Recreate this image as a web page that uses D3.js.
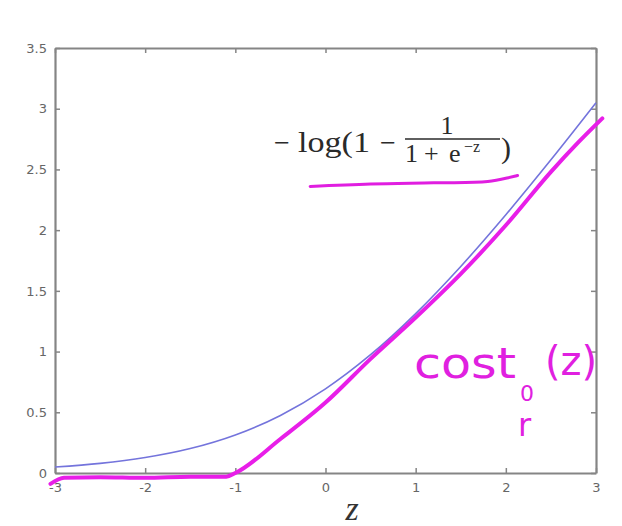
<!DOCTYPE html>
<html><head><meta charset="utf-8">
<script src="https://cdn.jsdelivr.net/npm/d3@7"></script>
<style>body{margin:0;background:#fff}svg{display:block}</style>
</head><body><svg id="c" width="622" height="526"></svg>
<script>
// data
const xTicks = [-3, -2, -1, 0, 1, 2, 3];
const xTickLabels = ["-3", "-2", "-1", "0", "1", "2", "3"];
const yTicks = [0, 0.5, 1, 1.5, 2, 2.5, 3, 3.5];
const yTickLabels = ["0", "0.5", "1", "1.5", "2", "2.5", "3", "3.5"];
const blueZ = [-3, -2.5, -2, -1.5, -1, -0.5, 0, 0.5, 1, 1.5, 2, 2.5, 3];
const blueV = [0.049, 0.079, 0.127, 0.201, 0.313, 0.474, 0.693, 0.974, 1.313, 1.701, 2.127, 2.579, 3.049];
const pinkZ = [-3.05, -2.9, -2.5, -2, -1.5, -1.1, -1, -0.5, 0, 0.5, 1, 1.5, 2, 2.5, 2.8, 3.07];
const pinkV = [-0.09, -0.04, -0.035, -0.04, -0.03, -0.03, 0.0, 0.28, 0.58, 0.94, 1.28, 1.64, 2.04, 2.48, 2.72, 2.92];
const underZ = [-0.17, 0.5, 1.2, 1.8, 2.13];
const underV = [2.36, 2.38, 2.39, 2.40, 2.45];

const svg = d3.select("#c");
const L = 55, R = 596, T = 48, B = 473;
const x = d3.scaleLinear().domain([-3, 3]).range([L, R]);
const y = d3.scaleLinear().domain([0, 3.5]).range([B, T]);
const axisCol = "#858585";

// axes with inward ticks
const gx = svg.append("g").attr("transform", `translate(0,${B})`)
  .call(d3.axisBottom(x).tickValues(xTicks).tickSizeInner(-5).tickSizeOuter(0).tickPadding(10).tickFormat((d, i) => xTickLabels[i]));
const gy = svg.append("g").attr("transform", `translate(${L},0)`)
  .call(d3.axisLeft(y).tickValues(yTicks).tickSizeInner(-5).tickSizeOuter(0).tickPadding(8).tickFormat((d, i) => yTickLabels[i]));
const gt = svg.append("g").attr("transform", `translate(0,${T})`)
  .call(d3.axisTop(x).tickValues(xTicks).tickSizeInner(-5).tickSizeOuter(0).tickFormat(""));
const gr = svg.append("g").attr("transform", `translate(${R},0)`)
  .call(d3.axisRight(y).tickValues(yTicks).tickSizeInner(-5).tickSizeOuter(0).tickFormat(""));
[gx, gy, gt, gr].forEach(g => {
  g.select(".domain").attr("stroke", axisCol).attr("stroke-width", 2.2);
  g.selectAll(".tick line").attr("stroke", axisCol).attr("stroke-width", 1.5);
  g.selectAll(".tick text").attr("fill", "#666").attr("font-family", "DejaVu Sans, sans-serif").attr("font-size", 13);
});

// blue curve
svg.append("path")
  .datum(blueZ.map((z, i) => [z, blueV[i]]))
  .attr("fill", "none").attr("stroke", "#7474dc").attr("stroke-width", 1.6)
  .attr("d", d3.line().x(d => x(d[0])).y(d => y(d[1])).curve(d3.curveCatmullRom));

// magenta hand-drawn cost0
svg.append("path")
  .datum(pinkZ.map((z, i) => [z, pinkV[i]]))
  .attr("fill", "none").attr("stroke", "#e81ee8").attr("stroke-width", 4)
  .attr("stroke-linecap", "round").attr("stroke-linejoin", "round")
  .attr("d", d3.line().x(d => x(d[0])).y(d => y(d[1])).curve(d3.curveMonotoneX));

// underline below formula
svg.append("path")
  .datum(underZ.map((z, i) => [z, underV[i]]))
  .attr("fill", "none").attr("stroke", "#e01ee0").attr("stroke-width", 3)
  .attr("stroke-linecap", "round")
  .attr("d", d3.line().x(d => x(d[0])).y(d => y(d[1])).curve(d3.curveCatmullRom));

// formula
const serif = "Liberation Serif, DejaVu Serif, serif";
const f = svg.append("g").attr("font-family", serif).attr("fill", "#2a2a2a");
f.append("text").attr("x", 274).attr("y", 152).attr("font-size", 28).text("−");
f.append("text").attr("x", 298).attr("y", 152).attr("font-size", 30)
  .attr("textLength", 72).attr("lengthAdjust", "spacingAndGlyphs").text("log(1");
f.append("text").attr("x", 380).attr("y", 152).attr("font-size", 28).text("−");
f.append("text").attr("x", 447).attr("y", 134).attr("font-size", 26).attr("text-anchor", "middle").text("1");
f.append("line").attr("x1", 405).attr("x2", 500).attr("y1", 139).attr("y2", 139).attr("stroke", "#2a2a2a").attr("stroke-width", 1.4);
f.append("text").attr("x", 405).attr("y", 162).attr("font-size", 26).text("1");
f.append("text").attr("x", 424).attr("y", 162).attr("font-size", 26).text("+");
f.append("text").attr("x", 449).attr("y", 162).attr("font-size", 26).text("e");
f.append("text").attr("x", 464).attr("y", 152).attr("font-size", 16).text("−z");
f.append("text").attr("x", 501).attr("y", 158).attr("font-size", 30).text(")");

// handwritten label
const hw = svg.append("g").attr("fill", "#e020e0").attr("font-family", "DejaVu Sans, sans-serif");
hw.append("text").attr("x", 414).attr("y", 378).attr("font-size", 42)
  .attr("textLength", 102).attr("lengthAdjust", "spacingAndGlyphs").text("cost");
hw.append("text").attr("x", 520).attr("y", 401).attr("font-size", 22).text("0");
hw.append("text").attr("x", 545).attr("y", 375).attr("font-size", 40).text("(z)");
hw.append("text").attr("x", 518).attr("y", 436).attr("font-size", 32).text("r");

// x axis label
svg.append("text").attr("x", 352).attr("y", 520).attr("text-anchor", "middle")
  .attr("font-family", serif).attr("font-style", "italic").attr("font-size", 34).attr("fill", "#333").text("z");
</script></body></html>
